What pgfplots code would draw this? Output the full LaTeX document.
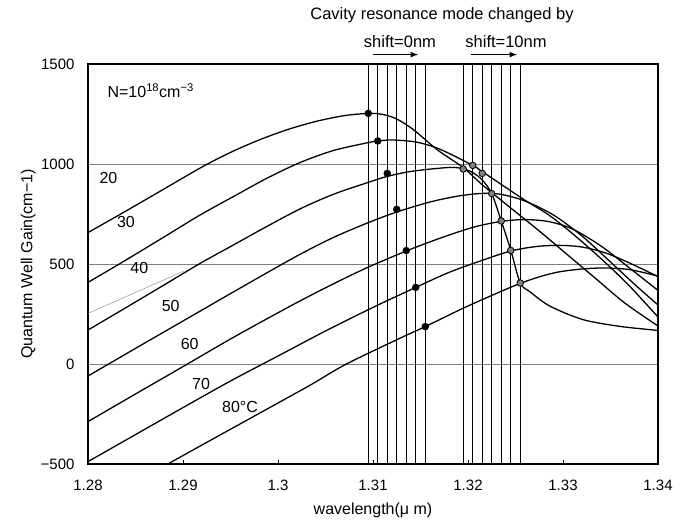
\documentclass[border=0pt]{standalone}
\usepackage{fontspec}
\setmainfont{Liberation Sans}
\usepackage{pgfplots}
\pgfplotsset{compat=1.18}
\begin{document}
\begin{tikzpicture}
\begin{axis}[
  scale only axis, width=570pt, height=400pt,
  xmin=1.28, xmax=1.34, ymin=-500, ymax=1500,
  xtick={1.28,1.29,1.30,1.31,1.32,1.33,1.34},
  xticklabels={1.28,1.29,1.3,1.31,1.32,1.33,1.34},
  ytick={-500,0,500,1000,1500},
  yticklabels={−500,0,500,1000,1500},
  tick label style={font=\fontsize{15}{15}\selectfont},
  yticklabel style={xshift=-10pt},
  xticklabel style={yshift=-12pt},
  xtick pos=bottom, ytick pos=left, tick align=inside,
  major tick length=4pt,
  ytick style={draw=none},
  xtick style={black, line width=0.6pt},
  ymajorgrids, grid style={gray, line width=0.8pt},
  axis line style={line width=1.6pt},
  xlabel={wavelength(μ m)},
  ylabel={Quantum Well Gain(cm−1)},
  label style={font=\fontsize{16}{16}\selectfont},
  xlabel style={yshift=-6pt},
  ylabel style={yshift=-2pt},
  clip=false,
]
\coordinate (bl) at (rel axis cs:0,0);
\coordinate (tr) at (rel axis cs:1,1);
% vertical cavity mode lines
\pgfplotsinvokeforeach{1.3095,1.3105,1.3115,1.3125,1.3135,1.3145,1.3155,1.3195,1.3205,1.3215,1.3225,1.3235,1.3245,1.3255}{
  \addplot[black, line width=1.1pt] coordinates {(#1,-500) (#1,1500)};
}
% thin grey artefact line
\addplot[gray, line width=0.4pt] coordinates {(1.28,253) (1.2901,465)};
% 20 C
\addplot[black, line width=1.3pt, smooth] coordinates {
(1.280,657) (1.284,765) (1.288,875) (1.292,985) (1.295,1058) (1.298,1120) (1.301,1172) (1.304,1213) (1.307,1242) (1.3095,1253) (1.311,1248) (1.3125,1225) (1.3143,1170) (1.3168,1070) (1.3195,982) (1.3216,892) (1.3245,780) (1.3275,665) (1.3305,545) (1.3335,425) (1.3365,305) (1.340,190)};
% 30 C
\addplot[black, line width=1.3pt, smooth] coordinates {
(1.280,408) (1.284,520) (1.288,635) (1.2918,745) (1.2953,837) (1.2988,928) (1.3023,1007) (1.3058,1067) (1.3093,1105) (1.3105,1115) (1.312,1120) (1.3145,1110) (1.317,1075) (1.3205,993) (1.3215,962) (1.3258,825) (1.3286,742) (1.3315,632) (1.3345,505) (1.337,390) (1.340,235)};
% 40 C
\addplot[black, line width=1.3pt, smooth] coordinates {
(1.280,170) (1.284,282) (1.288,395) (1.2918,503) (1.2953,595) (1.2988,687) (1.3023,775) (1.3058,848) (1.3093,905) (1.3115,938) (1.314,963) (1.317,979) (1.3185,983) (1.3195,976) (1.3205,957) (1.3215,920) (1.3225,852) (1.3235,715) (1.3245,570) (1.3255,405) (1.3265,362) (1.3286,290) (1.3321,222) (1.336,188) (1.340,168)};
% 50 C
\addplot[black, line width=1.3pt, smooth] coordinates {
(1.280,-60) (1.285,78) (1.290,215) (1.295,352) (1.2988,455) (1.3023,548) (1.3058,632) (1.3093,703) (1.3125,760) (1.316,810) (1.319,840) (1.3215,853) (1.3235,848) (1.326,815) (1.329,745) (1.332,640) (1.335,510) (1.3375,400) (1.340,295)};
% 60 C
\addplot[black, line width=1.3pt, smooth] coordinates {
(1.280,-288) (1.285,-150) (1.290,-13) (1.295,125) (1.2988,225) (1.3023,315) (1.3058,400) (1.3093,480) (1.3135,565) (1.317,628) (1.3205,683) (1.3235,713) (1.326,722) (1.3285,712) (1.331,675) (1.334,590) (1.337,480) (1.340,368)};
% 70 C
\addplot[black, line width=1.3pt, smooth] coordinates {
(1.280,-488) (1.285,-353) (1.290,-218) (1.295,-85) (1.300,40) (1.305,165) (1.310,283) (1.3145,383) (1.318,458) (1.3213,515) (1.3245,565) (1.3273,588) (1.3297,593) (1.332,585) (1.3345,555) (1.337,505) (1.340,437)};
% 80 C
\addplot[black, line width=1.3pt, smooth] coordinates {
(1.2884,-500) (1.292,-405) (1.296,-300) (1.300,-195) (1.3036,-100) (1.3072,0) (1.3128,128) (1.3155,187) (1.320,290) (1.3255,403) (1.329,455) (1.332,475) (1.3345,480) (1.337,472) (1.340,440)};
% dots shift = 0nm
\addplot[only marks, mark=*, mark size=3.5pt, mark options={fill=black, draw=black}] coordinates {
(1.3095,1253) (1.3105,1115) (1.3115,953) (1.3125,773) (1.3135,567) (1.3145,383) (1.3155,187)};
% dots shift = 10nm
\addplot[only marks, mark=*, mark size=3.3pt, mark options={fill=gray, draw=black, line width=0.8pt}] coordinates {
(1.3195,975) (1.3205,993) (1.3215,953) (1.3225,852) (1.3235,715) (1.3245,568) (1.3255,405)};
% labels
\node[font=\fontsize{16}{16}\selectfont] at (axis cs:1.28215,930) {20};
\node[font=\fontsize{16}{16}\selectfont] at (axis cs:1.2840,710) {30};
\node[font=\fontsize{16}{16}\selectfont] at (axis cs:1.2854,478) {40};
\node[font=\fontsize{16}{16}\selectfont] at (axis cs:1.2887,290) {50};
\node[font=\fontsize{16}{16}\selectfont] at (axis cs:1.2907,100) {60};
\node[font=\fontsize{16}{16}\selectfont] at (axis cs:1.2919,-98) {70};
\node[font=\fontsize{16}{16}\selectfont] at (axis cs:1.2960,-213) {80°C};
\node[font=\fontsize{16}{16}\selectfont] at (axis cs:1.2866,1365) {N=10\textsuperscript{18}cm\textsuperscript{−3}};
\node[font=\fontsize{16.5}{16.5}\selectfont] at (axis cs:1.31726,1745) {Cavity resonance mode changed by};
\node[font=\fontsize{16.5}{16.5}\selectfont] at (axis cs:1.31284,1612) {shift=0nm};
\node[font=\fontsize{16.5}{16.5}\selectfont] at (axis cs:1.32400,1612) {shift=10nm};
\draw[-latex, line width=1.5pt] (axis cs:1.3100,1547) -- (axis cs:1.31474,1547);
\draw[-latex, line width=1.5pt] (axis cs:1.32032,1547) -- (axis cs:1.32516,1547);
\end{axis}
\pgfresetboundingbox
\path ([shift={(-88pt,-59pt)}]bl) rectangle ([shift={(28pt,64pt)}]tr);
\end{tikzpicture}
\end{document}
